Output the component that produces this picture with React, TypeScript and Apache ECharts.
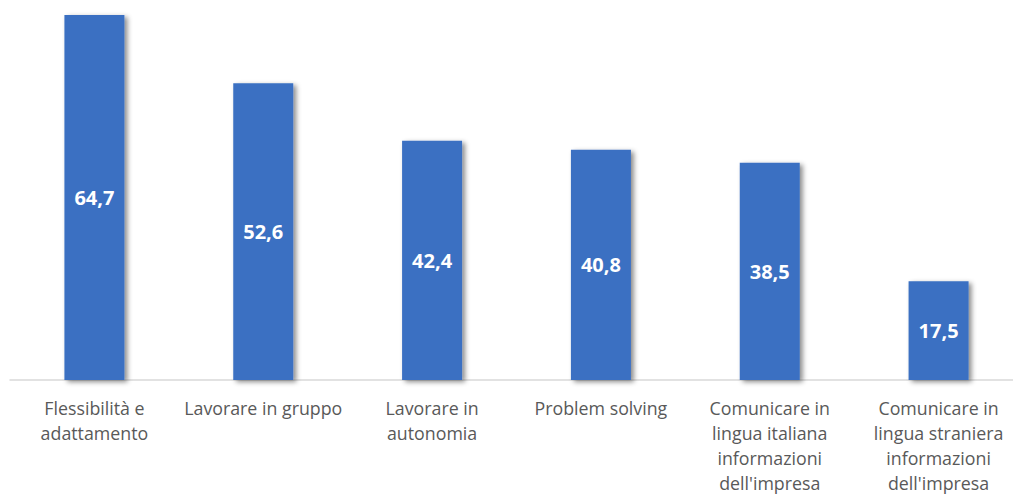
import React, { useEffect, useRef } from "react";
import * as echarts from "echarts";

const categories = [
  "Flessibilità e\nadattamento",
  "Lavorare in gruppo",
  "Lavorare in\nautonomia",
  "Problem solving",
  "Comunicare in\nlingua italiana\ninformazioni\ndell'impresa",
  "Comunicare in\nlingua straniera\ninformazioni\ndell'impresa",
];
const values = [64.7, 52.6, 42.4, 40.8, 38.5, 17.5];

export default function App() {
  const ref = useRef<HTMLDivElement>(null);
  useEffect(() => {
    document.body.style.overflow = "hidden";
    const chart = echarts.init(ref.current!, null, { renderer: "svg" });
    chart.setOption({
      animation: false,
      grid: {
        left: 10,
        top: 15,
        width: 1013,
        bottom: 114,
        containLabel: false,
        outerBoundsMode: "none",
      },
      xAxis: {
        type: "category",
        data: categories,
        axisLine: { show: true, lineStyle: { color: "#D9D9D9", width: 1.5 } },
        axisTick: { show: false },
        axisLabel: {
          interval: 0,
          color: "#595959",
          fontSize: 17.8,
          fontFamily: "Open Sans",
          lineHeight: 25.2,
          margin: 15,
        },
      },
      yAxis: {
        type: "value",
        min: 0,
        max: "dataMax",
        show: false,
        splitLine: { show: false },
      },
      series: [
        {
          type: "bar",
          data: values,
          barWidth: 60,
          itemStyle: {
            color: "#3A70C2",
            shadowColor: "rgba(0,0,0,0.45)",
            shadowBlur: 5,
            shadowOffsetX: 3,
            shadowOffsetY: 2,
          },
          label: {
            show: true,
            position: "inside",
            color: "#FFFFFF",
            fontWeight: "bold",
            fontSize: 20,
            fontFamily: "Open Sans",
            formatter: (p: any) => String(p.value).replace(".", ","),
          },
        },
      ],
    });
    return () => chart.dispose();
  }, []);
  return (
    <div
      ref={ref}
      style={{
        position: "fixed",
        left: 0,
        top: 0,
        width: 1013,
        height: 494,
        overflow: "hidden",
        background: "#fff",
      }}
    />
  );
}
